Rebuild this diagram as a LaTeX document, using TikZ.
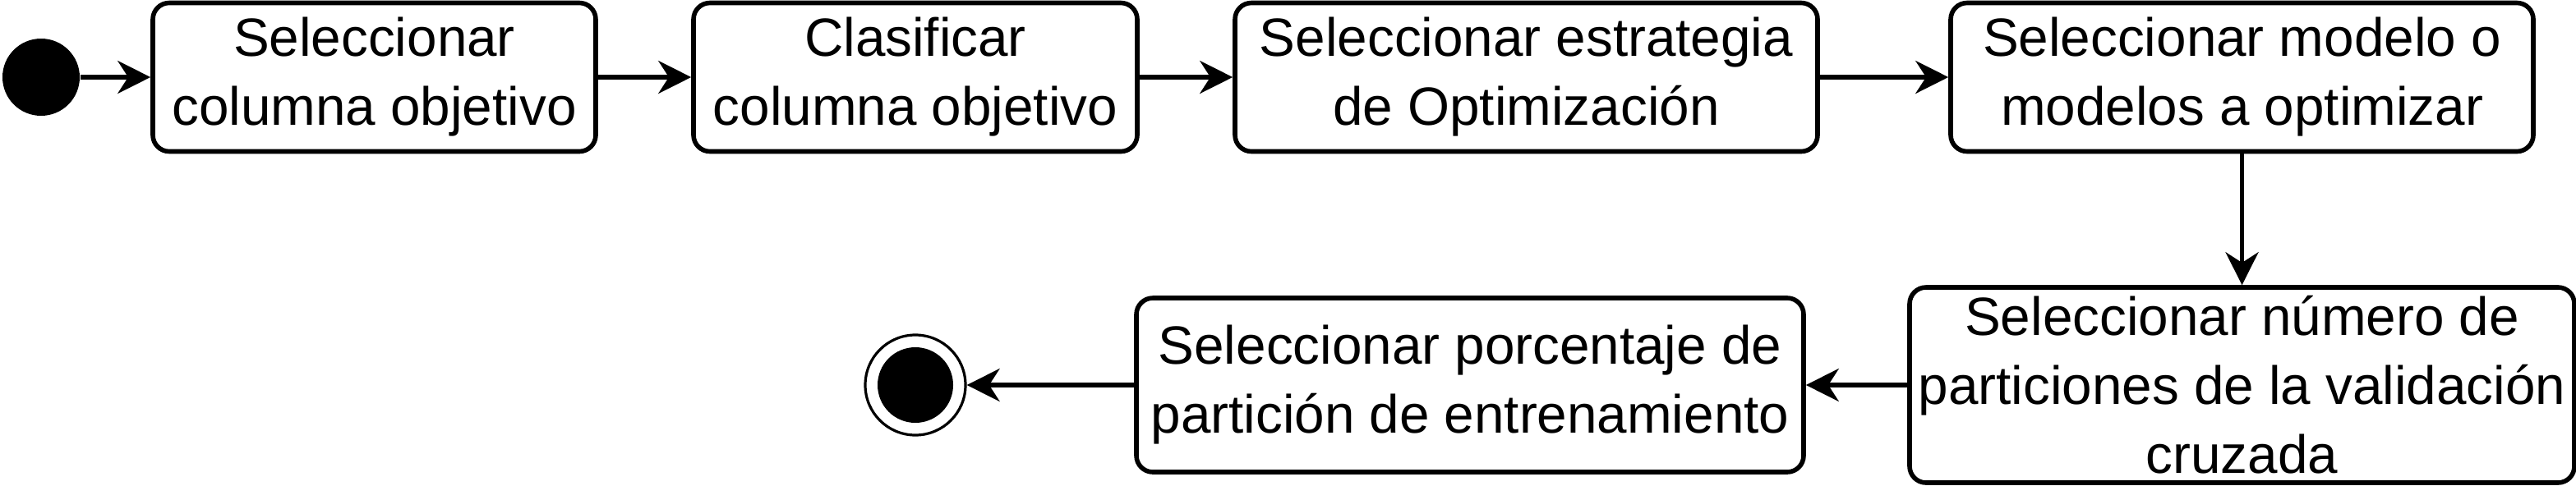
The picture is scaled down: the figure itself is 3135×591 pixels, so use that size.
\documentclass[tikz,border=0pt]{standalone}
\usepackage{fontspec}
\setmainfont{Liberation Sans}
\usetikzlibrary{arrows.meta}
\begin{document}
\begin{tikzpicture}[x=0.25pt,y=-0.25pt,
  act/.style={draw, line width=1.4pt, rounded corners=5pt, align=center,
    font=\fontsize{16.4}{21}\selectfont, inner sep=0pt, minimum height=45.25pt},
  flow/.style={-{Stealth[length=10pt,width=10pt,inset=3.2pt]}, line width=1.3pt},
  initst/.style={circle, fill=black, minimum size=23.5pt, inner sep=0pt},
  finalst/.style={circle, draw, line width=0.8pt, minimum size=30.5pt, inner sep=0pt},
  finaldot/.style={circle, fill=black, minimum size=23pt, inner sep=0pt}
]
\useasboundingbox (0,0) rectangle (3135,591);
\node[initst] (start) at (50,94) {};
\node[act, minimum width=134.75pt] (b1) at (455.5,94) {Seleccionar\\columna objetivo};
\node[act, minimum width=135pt] (b2) at (1114,94) {Clasificar\\columna objetivo};
\node[act, minimum width=177.25pt] (b3) at (1857.5,94) {Seleccionar estrategia\\de Optimización};
\node[act, minimum width=177.25pt] (b4) at (2728.5,94) {Seleccionar modelo o\\modelos a optimizar};
\node[act, minimum width=202.25pt, minimum height=59.5pt] (b5) at (2728.5,469) {Seleccionar número de\\particiones de la validación\\cruzada};
\node[act, minimum width=203pt, minimum height=53pt] (b6) at (1789,469) {Seleccionar porcentaje de\\partición de entrenamiento};
\node[finalst] (end) at (1114,469) {};
\node[finaldot] (enddot) at (end.center) {};
\draw[flow] (start) -- (b1);
\draw[flow] (b1) -- (b2);
\draw[flow] (b2) -- (b3);
\draw[flow] (b3) -- (b4);
\draw[flow] (b4) -- (b5);
\draw[flow] (b5) -- (b6);
\draw[flow] (b6) -- (end);
\end{tikzpicture}
\end{document}
